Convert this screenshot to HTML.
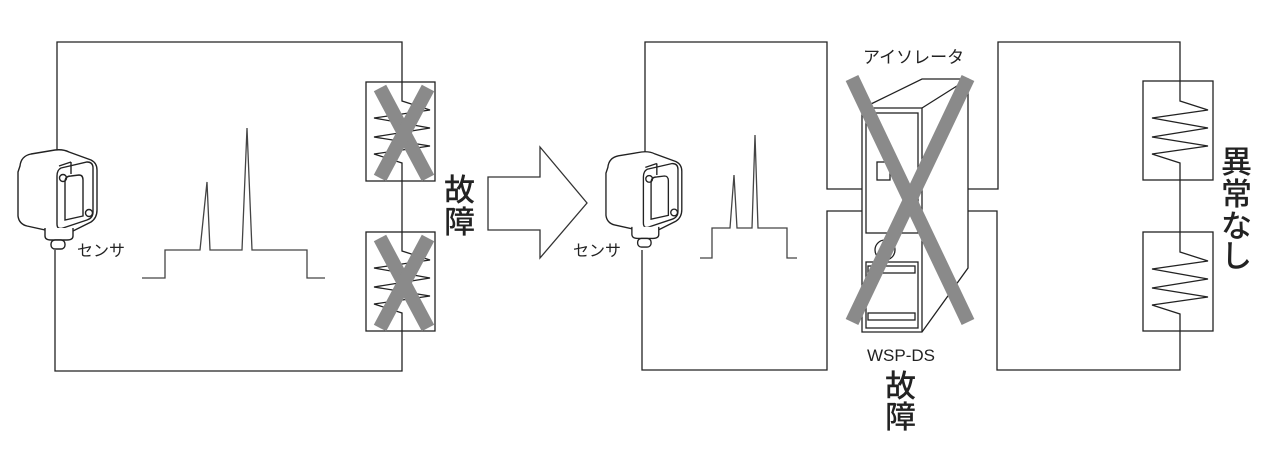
<!DOCTYPE html>
<html><head><meta charset="utf-8"><style>
body{margin:0;background:#fff}
svg{display:block}
text{font-family:"Noto Sans CJK JP","Liberation Sans",sans-serif;fill:#222}
.l{font-family:"Liberation Sans","Noto Sans CJK JP",sans-serif}
</style></head><body>
<svg width="1282" height="456" viewBox="0 0 1282 456" xmlns="http://www.w3.org/2000/svg">
<defs>
<g id="sensor" fill="none" stroke="#222" stroke-width="1.4">
<path d="M3 16 Q4 6 14 4 L38 0 Q46 -1 52 2 L74 10 Q80 13 80 20 L80 60 Q80 68 74 72 L54 82 Q48 84 42 83 L10 76 Q2 74 1 66 L1 22 Z" fill="#fff"/>
<path d="M44 18 L70 12 Q76 12 76 18 L76 62 Q76 68 70 70 L46 78 Q40 80 40 74 L40 26 Q40 20 44 18Z"/>
<path d="M48 32 Q48 26 54 26 L62 25 Q66 25 66 30 L66 66 L48 70 Z"/>
<path d="M42 16 L54 12 M54 12 L54 24"/>
<circle cx="46" cy="28" r="3.5"/><circle cx="72" cy="63" r="3.5"/>
<path d="M28 78 L28 86 Q28 90 34 90 L50 90 Q56 90 56 86 L56 78" fill="#fff"/>
<rect x="34" y="90" width="14" height="9" rx="4" fill="#fff"/>
</g>
</defs>
<g fill="none" stroke="#222" stroke-width="1.3">
<polyline points="57,152 57,42 402,42 402,82"/>
<polyline points="55,250 55,371 402,371 402,331"/>
<line x1="402" y1="181" x2="402" y2="232"/>
<rect x="366" y="82" width="69" height="99"/>
<rect x="366" y="232" width="69" height="99"/>
<polyline points="402,82 402,101 430,110 374,118 430,128 374,137 430,146 374,154 402,163 402,181"/>
<polyline points="402,232 402,251 430,260 374,268 430,278 374,287 430,296 374,304 402,313 402,331"/>
<polyline points="142,278 165,278 165,250 200,250 207,182 210,250 242,250 247,128 252,250 307,250 307,278 325,278" stroke="#444"/>
<polygon points="488,177 540,177 540,147 587,203 540,258 540,230 488,230" stroke="#333"/>
<polyline points="645,152 645,42 827,42 827,189 862,189"/>
<polyline points="642,250 642,370 827,370 827,211 862,211"/>
<polyline points="700,258 712,258 712,228 730,228 734,175 737,228 752,228 755,135 758,228 787,228 787,258 797,258" stroke="#444"/>
<polygon points="862,108 873,103 922,79 968,79 968,268 922,332 862,332" fill="#fff"/>
<polyline points="862,108 922,108 922,332"/><line x1="922" y1="108" x2="968" y2="79"/>
<rect x="866" y="113" width="52" height="120"/>
<rect x="877" y="162" width="13" height="18"/>
<circle cx="885" cy="250" r="10"/>
<rect x="866" y="262" width="52" height="66"/>
<rect x="868" y="266" width="47" height="7"/>
<rect x="868" y="313" width="47" height="7"/>
<polyline points="968,189 998,189 998,42 1180,42 1180,81"/>
<polyline points="968,211 997,211 997,370 1180,370 1180,331"/>
<line x1="1180" y1="180" x2="1180" y2="232"/>
<rect x="1143" y="81" width="70" height="99"/>
<rect x="1143" y="232" width="70" height="99"/>
<polyline points="1180,81 1180,101 1208,110 1152,118 1208,128 1152,137 1208,146 1152,154 1180,163 1180,180"/>
<polyline points="1180,232 1180,252 1208,261 1152,269 1208,279 1152,288 1208,297 1152,305 1180,314 1180,331"/>
</g>
<use href="#sensor" transform="translate(17,150)"/>
<use href="#sensor" transform="translate(605,152) scale(0.96)"/>
<g stroke="#8a8a8a" stroke-width="14">
<line x1="380" y1="88" x2="428" y2="178"/><line x1="428" y1="88" x2="380" y2="178"/>
<line x1="380" y1="238" x2="428" y2="328"/><line x1="428" y1="238" x2="380" y2="328"/>
<line x1="852" y1="78" x2="968" y2="322"/><line x1="968" y1="78" x2="852" y2="322"/>
</g>
<text x="77" y="256" font-size="16">センサ</text>
<text x="573" y="256" font-size="16">センサ</text>
<g font-size="31" font-weight="500">
<text x="444" y="201">故</text>
<text x="444" y="233">障</text>
<text x="885" y="397">故</text>
<text x="885" y="428">障</text>
<text x="1221" y="173">異</text>
<text x="1221" y="205">常</text>
<text x="1221" y="237">な</text>
<text x="1221" y="267">し</text>
</g>
<text x="863" y="63" font-size="17">アイソレータ</text>
<text class="l" x="901" y="361" font-size="17" text-anchor="middle">WSP-DS</text>
</svg>
</body></html>
